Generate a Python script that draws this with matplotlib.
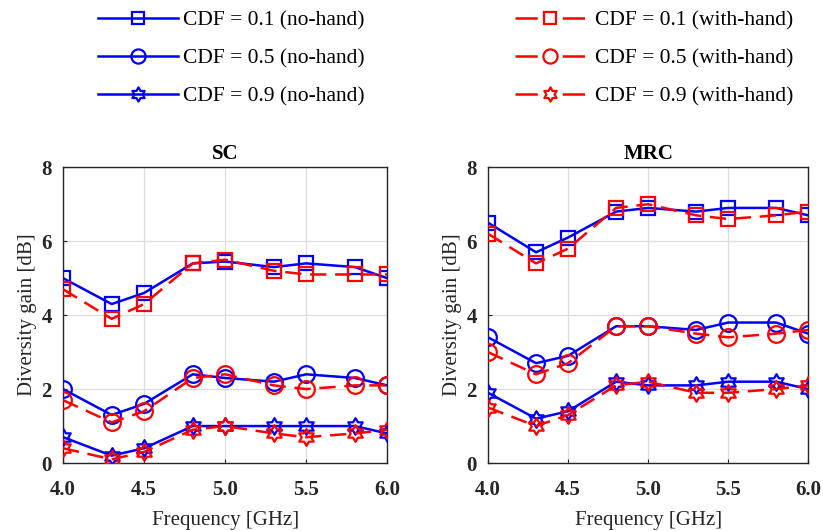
import numpy as np
import matplotlib.pyplot as plt
from matplotlib.path import Path
from matplotlib.lines import Line2D

plt.rcParams['font.family'] = ['Liberation Serif', 'DejaVu Serif']

freq = [4.0, 4.3, 4.5, 4.8, 5.0, 5.3, 5.5, 5.8, 6.0]

# SC
sc_nohand_01 = [5.0, 4.3, 4.6, 5.4, 5.45, 5.3, 5.4, 5.3, 5.0]
sc_nohand_05 = [2.0, 1.3, 1.6, 2.4, 2.3, 2.2, 2.4, 2.3, 2.1]
sc_nohand_09 = [0.7, 0.2, 0.4, 1.0, 1.0, 1.0, 1.0, 1.0, 0.8]
sc_hand_01 = [4.7, 3.9, 4.3, 5.4, 5.5, 5.2, 5.1, 5.1, 5.1]
sc_hand_05 = [1.7, 1.1, 1.4, 2.3, 2.4, 2.1, 2.0, 2.1, 2.1]
sc_hand_09 = [0.4, 0.1, 0.3, 0.9, 1.0, 0.8, 0.7, 0.8, 0.9]

# MRC
mrc_nohand_01 = [6.5, 5.7, 6.1, 6.8, 6.9, 6.8, 6.9, 6.9, 6.7]
mrc_nohand_05 = [3.4, 2.7, 2.9, 3.7, 3.7, 3.6, 3.8, 3.8, 3.5]
mrc_nohand_09 = [1.9, 1.2, 1.4, 2.2, 2.1, 2.1, 2.2, 2.2, 2.0]
mrc_hand_01 = [6.2, 5.4, 5.8, 6.9, 7.0, 6.7, 6.6, 6.7, 6.8]
mrc_hand_05 = [3.0, 2.4, 2.7, 3.7, 3.7, 3.5, 3.4, 3.5, 3.6]
mrc_hand_09 = [1.5, 1.0, 1.3, 2.1, 2.2, 1.9, 1.9, 2.0, 2.1]

cdf_levels = ['0.1', '0.5', '0.9']

# hexagram marker (star of David outline)
ang = np.pi / 2 + np.arange(12) * np.pi / 6
rad = np.where(np.arange(12) % 2 == 0, 1.0, 1 / np.sqrt(3))
hverts = np.column_stack([rad * np.cos(ang), rad * np.sin(ang)])
hverts = np.vstack([hverts, hverts[:1]])
hexagram = Path(hverts, closed=True)

markers = ['s', 'o', hexagram]
msizes = [10, 12, 12]

fig = plt.figure(figsize=(8.23, 5.31), dpi=100)
ax1 = fig.add_axes([0.0766, 0.128, 0.394, 0.557])
ax2 = fig.add_axes([0.593, 0.128, 0.389, 0.557])

panels = [
    (ax1, 'SC', [sc_nohand_01, sc_nohand_05, sc_nohand_09], [sc_hand_01, sc_hand_05, sc_hand_09]),
    (ax2, 'MRC', [mrc_nohand_01, mrc_nohand_05, mrc_nohand_09], [mrc_hand_01, mrc_hand_05, mrc_hand_09]),
]

for ax, title, nohand, hand in panels:
    for i in range(3):
        ax.plot(freq, nohand[i], color='#0000ff', lw=1.8, marker=markers[i],
                ms=msizes[i], mfc='none', mew=1.6, zorder=3)
    for i in range(3):
        ax.plot(freq, hand[i], color='#ff0000', lw=1.8, ls=(0, (6.5, 3.5)),
                marker=markers[i], ms=msizes[i], mfc='none', mew=1.6, zorder=4)
    ax.set_xlim(4.0, 6.0)
    ax.set_ylim(0, 8)
    ax.set_xticks([4.0, 4.5, 5.0, 5.5, 6.0])
    ax.set_xticklabels(['4.0', '4.5', '5.0', '5.5', '6.0'])
    ax.set_yticks([0, 2, 4, 6, 8])
    ax.grid(True, color='#dddddd', lw=0.9)
    ax.set_axisbelow(True)
    ax.tick_params(direction='in', length=3, labelsize=15, colors='#262626')
    ax.tick_params(axis='x', pad=12.5)
    ax.tick_params(axis='y', pad=8)
    for lab in ax.get_xticklabels() + ax.get_yticklabels():
        lab.set_fontweight('semibold')
    for sp in ax.spines.values():
        sp.set_color('#262626')
        sp.set_linewidth(1.0)
    ax.set_xlabel('Frequency [GHz]', fontsize=15, color='#262626', labelpad=7.5)
    ax.set_ylabel('Diversity gain [dB]', fontsize=15, color='#262626', labelpad=3)
    ax.set_title(title, fontsize=15, fontweight='bold', pad=6)

# legend entries (same styles; red gets a dash pattern that leaves gaps around the marker)
h_no = [Line2D([], [], color='#0000ff', lw=1.8, marker=markers[i], ms=msizes[i] * 0.85,
               mfc='none', mew=1.6) for i in range(3)]
h_w = [Line2D([], [], color='#ff0000', lw=1.8, ls=(0, (8.9, 10.0)), marker=markers[i],
              ms=msizes[i] * 0.85, mfc='none', mew=1.6) for i in range(3)]
lab_no = ['CDF = %s (no-hand)' % c for c in cdf_levels]
lab_w = ['CDF = %s (with-hand)' % c for c in cdf_levels]

fig.legend(h_no, lab_no, loc='upper left', bbox_to_anchor=(0.119, 0.981),
           frameon=False, fontsize=15.5, handlelength=3.7, handletextpad=0.23,
           labelspacing=0.85, borderpad=0, borderaxespad=0)
fig.legend(h_w, lab_w, loc='upper left', bbox_to_anchor=(0.626, 0.981),
           frameon=False, fontsize=15.5, handlelength=3.25, handletextpad=0.46,
           labelspacing=0.85, borderpad=0, borderaxespad=0)

fig.savefig('out.png', dpi=100)
